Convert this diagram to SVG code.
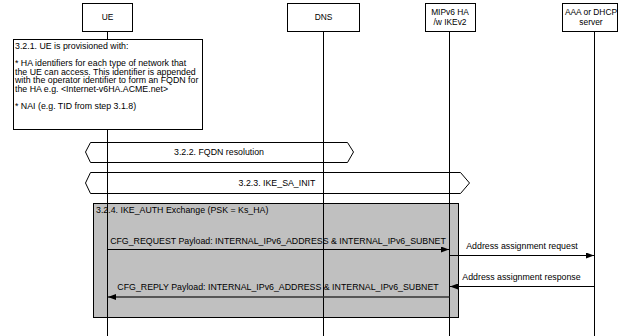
<svg xmlns="http://www.w3.org/2000/svg" width="631" height="336" viewBox="0 0 631 336">
<style>
text{font-family:"Liberation Sans",Arial,sans-serif;font-size:8.8px;fill:#000}
.hd{font-size:8.4px}
.box{fill:#fff;stroke:#000;stroke-width:1}
.life{stroke:#000;stroke-width:1;fill:none}
.hex{fill:#fff;stroke:#000;stroke-width:1}
.msg{stroke:#000;stroke-width:1;fill:none}
.c{text-anchor:middle}
</style>
<defs>
<marker id="ah" viewBox="0 0 8 6" refX="8" refY="3" markerWidth="8" markerHeight="6" markerUnits="userSpaceOnUse" orient="auto">
<path d="M0,0 L8,3 L0,6 z" fill="#000"/>
</marker>
</defs>
<rect width="631" height="336" fill="#fff"/>
<g id="frames">
<polygon class="hex" points="85.5,152 90.5,142.5 347.5,142.5 353.5,152 347.5,162.5 90.5,162.5"/>
<text class="c" x="219" y="155">3.2.2. FQDN resolution</text>
<polygon class="hex" points="85.5,183 90.5,172.5 460.5,172.5 469.5,183 460.5,193.5 90.5,193.5"/>
<text class="c" x="277" y="186">3.2.3. IKE_SA_INIT</text>
<rect x="93.5" y="203.5" width="365" height="114" fill="#c0c0c0" stroke="#000"/>
<text x="96" y="213">3.2.4. IKE_AUTH Exchange (PSK = Ks_HA)</text>
</g>
<g id="lifelines">
<line class="life" x1="107.5" y1="32" x2="107.5" y2="336"/>
<line class="life" x1="323.5" y1="32" x2="323.5" y2="336"/>
<line class="life" x1="449.5" y1="32" x2="449.5" y2="336"/>
<line class="life" x1="594.5" y1="32" x2="594.5" y2="336"/>
</g>
<g id="UE">
<rect class="box" x="82.5" y="3.5" width="50" height="28"/>
<text class="c hd" x="107.5" y="20">UE</text>
</g>
<g id="DNS">
<rect class="box" x="287.5" y="3.5" width="72" height="28"/>
<text class="c hd" x="323.5" y="20">DNS</text>
</g>
<g id="HA">
<rect class="box" x="425.5" y="3.5" width="50" height="28"/>
<text class="c hd" x="450" y="14.5">MIPv6 HA</text>
<text class="c hd" x="450" y="24.5">/w IKEv2</text>
</g>
<g id="AAA">
<rect class="box" x="562.5" y="3.5" width="55" height="28"/>
<text class="c hd" x="591" y="14.5">AAA or DHCP</text>
<text class="c hd" x="591" y="24.5">server</text>
</g>
<g id="note">
<rect class="box" x="13.5" y="39.5" width="189" height="90"/>
<text x="15" y="49">3.2.1. UE is provisioned with:</text>
<text x="15" y="66">* HA identifiers for each type of network that</text>
<text x="15" y="74.5">the UE can access. This identifier is appended</text>
<text x="15" y="83">with the operator identifier to form an FQDN for</text>
<text x="15" y="91.5">the HA e.g. &lt;Internet-v6HA.ACME.net&gt;</text>
<text x="15" y="108.5">* NAI (e.g. TID from step 3.1.8)</text>
</g>
<g id="connectors">
<line class="msg" x1="107.5" y1="249.5" x2="449" y2="249.5" marker-end="url(#ah)"/>
<text class="c" x="278" y="244">CFG_REQUEST Payload: INTERNAL_IPv6_ADDRESS &amp; INTERNAL_IPv6_SUBNET</text>
<line class="msg" x1="449.5" y1="255.5" x2="594" y2="255.5" marker-end="url(#ah)"/>
<text class="c" x="522" y="249">Address assignment request</text>
<line class="msg" x1="594.5" y1="286.5" x2="450" y2="286.5" marker-end="url(#ah)"/>
<text class="c" x="521.5" y="280">Address assignment response</text>
<line x1="449.5" y1="297" x2="108" y2="297" stroke="#333" stroke-width="1.5" marker-end="url(#ah)"/>
<text class="c" x="278" y="290">CFG_REPLY Payload: INTERNAL_IPv6_ADDRESS &amp; INTERNAL_IPv6_SUBNET</text>
</g>
</svg>
